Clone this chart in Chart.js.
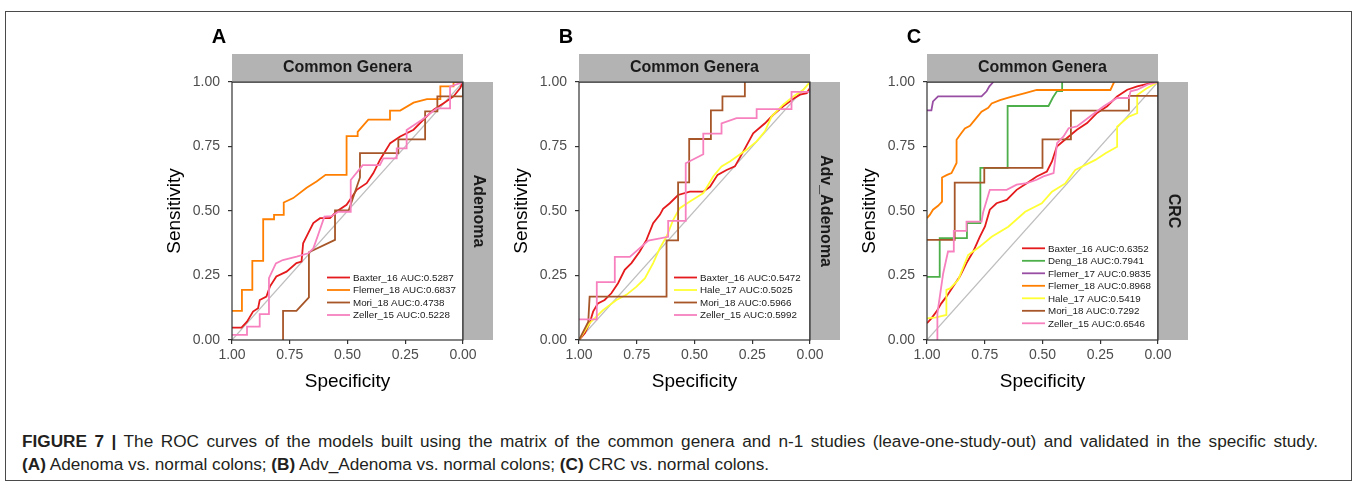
<!DOCTYPE html>
<html>
<head>
<meta charset="utf-8">
<script src="https://cdn.jsdelivr.net/npm/chart.js@4.4.1/dist/chart.umd.min.js"></script>
<style>
  body { margin: 0; width: 1354px; height: 483px; background: #fff; position: relative; overflow: hidden; font-family: "Liberation Sans", Arial, sans-serif; }
  .frame { position: absolute; left: 5px; top: 11px; width: 1347px; height: 470px; border: 1.5px solid #4a4a4a; box-sizing: border-box; }
  canvas { position: absolute; }
  .caption { position: absolute; left: 22px; font-size: 17.2px; line-height: 20px; color: #231f20; white-space: nowrap; }
  .caption.just { width: 1296px; white-space: normal; text-align: justify; text-align-last: justify; }
</style>
</head>
<body>
<div class="frame"></div>
<canvas id="chartA" width="360" height="380" style="left:150px;top:20px"></canvas>
<canvas id="chartB" width="360" height="380" style="left:497px;top:20px"></canvas>
<canvas id="chartC" width="360" height="380" style="left:845px;top:20px"></canvas>
<div class="caption just" style="top:431px"><b>FIGURE 7 |</b> The ROC curves of the models built using the matrix of the common genera and n-1 studies (leave-one-study-out) and validated in the specific study.</div>
<div class="caption" style="top:454px"><b>(A)</b> Adenoma vs. normal colons; <b>(B)</b> Adv_Adenoma vs. normal colons; <b>(C)</b> CRC vs. normal colons.</div>
<script>
// --- DATA (specificity / sensitivity) ---
const tickValues = [0, 0.25, 0.5, 0.75, 1];
const tickLabels = ['0.00', '0.25', '0.50', '0.75', '1.00'];

// panel A: Adenoma
const A_baxter_spec = [1, 0.959, 0.935, 0.909, 0.887, 0.88, 0.851, 0.836, 0.808, 0.764, 0.721, 0.699, 0.692, 0.67, 0.648, 0.619, 0.576, 0.547, 0.504, 0.46, 0.417, 0.388, 0.359, 0.315, 0.272, 0.214, 0.171, 0.127, 0.084, 0.041, 0.012, 0];
const A_baxter_sens = [0.048, 0.048, 0.071, 0.11, 0.123, 0.155, 0.168, 0.207, 0.246, 0.265, 0.298, 0.304, 0.375, 0.414, 0.453, 0.472, 0.472, 0.498, 0.524, 0.582, 0.608, 0.647, 0.699, 0.763, 0.789, 0.815, 0.854, 0.893, 0.918, 0.944, 0.977, 1];
const A_flemer18_spec = [1, 0.957, 0.957, 0.912, 0.912, 0.865, 0.865, 0.818, 0.818, 0.776, 0.776, 0.735, 0.677, 0.634, 0.595, 0.504, 0.504, 0.456, 0.456, 0.41, 0.316, 0.316, 0.272, 0.214, 0.156, 0.098, 0.098, 0.041, 0.041, 0];
const A_flemer18_sens = [0.113, 0.113, 0.194, 0.194, 0.307, 0.307, 0.468, 0.468, 0.485, 0.485, 0.533, 0.55, 0.59, 0.614, 0.64, 0.64, 0.79, 0.79, 0.807, 0.854, 0.854, 0.889, 0.889, 0.92, 0.934, 0.934, 0.983, 0.983, 1, 1];
const A_mori_spec = [0.779, 0.779, 0.721, 0.667, 0.667, 0.554, 0.554, 0.495, 0.446, 0.446, 0.28, 0.28, 0.164, 0.164, 0.111, 0.111, 0, 0];
const A_mori_sens = [0, 0.113, 0.113, 0.165, 0.34, 0.388, 0.502, 0.502, 0.63, 0.724, 0.724, 0.778, 0.778, 0.886, 0.886, 0.944, 0.944, 1];
const A_zeller_spec = [1, 0.935, 0.935, 0.88, 0.88, 0.84, 0.84, 0.81, 0.78, 0.72, 0.67, 0.648, 0.63, 0.6, 0.57, 0.54, 0.486, 0.486, 0.434, 0.36, 0.345, 0.287, 0.287, 0.244, 0.244, 0.179, 0.114, 0.056, 0.056, 0];
const A_zeller_sens = [0.02, 0.02, 0.052, 0.052, 0.1, 0.1, 0.24, 0.297, 0.31, 0.323, 0.336, 0.355, 0.4, 0.478, 0.48, 0.497, 0.497, 0.62, 0.678, 0.678, 0.704, 0.704, 0.743, 0.743, 0.814, 0.853, 0.898, 0.898, 0.982, 1];

// panel B: Adv_Adenoma
const B_baxter_spec = [1, 0.975, 0.954, 0.939, 0.918, 0.889, 0.86, 0.831, 0.802, 0.773, 0.737, 0.708, 0.679, 0.65, 0.636, 0.607, 0.571, 0.52, 0.462, 0.433, 0.4, 0.361, 0.325, 0.289, 0.246, 0.195, 0.159, 0.116, 0.072, 0.043, 0.014, 0, 0];
const B_baxter_sens = [0, 0.026, 0.065, 0.11, 0.142, 0.155, 0.181, 0.22, 0.272, 0.298, 0.343, 0.388, 0.453, 0.485, 0.508, 0.53, 0.562, 0.575, 0.575, 0.594, 0.64, 0.659, 0.673, 0.73, 0.801, 0.84, 0.873, 0.906, 0.935, 0.951, 0.957, 0.977, 1];
const B_hale_spec = [1, 0.954, 0.896, 0.838, 0.795, 0.751, 0.715, 0.679, 0.65, 0.621, 0.592, 0.564, 0.52, 0.462, 0.419, 0.383, 0.347, 0.275, 0.231, 0.195, 0.166, 0.116, 0.072, 0.029, 0];
const B_hale_sens = [0, 0.065, 0.116, 0.155, 0.175, 0.207, 0.239, 0.298, 0.356, 0.401, 0.466, 0.511, 0.537, 0.569, 0.634, 0.673, 0.692, 0.737, 0.77, 0.809, 0.867, 0.912, 0.944, 0.97, 1];
const B_mori_spec = [1, 0.96, 0.954, 0.621, 0.621, 0.571, 0.571, 0.523, 0.523, 0.429, 0.429, 0.379, 0.379, 0.282, 0.282];
const B_mori_sens = [0, 0.07, 0.168, 0.168, 0.386, 0.386, 0.611, 0.611, 0.779, 0.779, 0.89, 0.89, 0.944, 0.944, 1];
const B_zeller_spec = [1, 0.923, 0.923, 0.845, 0.845, 0.78, 0.7, 0.614, 0.614, 0.538, 0.538, 0.462, 0.462, 0.383, 0.383, 0.318, 0.231, 0.231, 0.08, 0.08, 0, 0];
const B_zeller_sens = [0.08, 0.08, 0.224, 0.224, 0.322, 0.322, 0.385, 0.4, 0.462, 0.462, 0.685, 0.72, 0.8, 0.8, 0.84, 0.86, 0.86, 0.895, 0.895, 0.962, 0.962, 1];

// panel C: CRC
const C_baxter_spec = [1, 0.981, 0.959, 0.938, 0.916, 0.887, 0.858, 0.829, 0.8, 0.771, 0.749, 0.728, 0.699, 0.655, 0.612, 0.568, 0.525, 0.481, 0.459, 0.438, 0.394, 0.351, 0.307, 0.264, 0.22, 0.177, 0.133, 0.09, 0.032, 0];
const C_baxter_sens = [0.065, 0.084, 0.11, 0.142, 0.168, 0.207, 0.246, 0.298, 0.343, 0.401, 0.44, 0.505, 0.53, 0.543, 0.582, 0.608, 0.634, 0.653, 0.692, 0.75, 0.783, 0.815, 0.841, 0.88, 0.906, 0.944, 0.97, 0.983, 0.996, 1];
const C_deng_spec = [1, 0.945, 0.945, 0.827, 0.827, 0.769, 0.769, 0.651, 0.651, 0.474, 0.455, 0.437, 0.415, 0.415];
const C_deng_sens = [0.245, 0.245, 0.395, 0.395, 0.453, 0.453, 0.667, 0.667, 0.907, 0.907, 0.94, 0.965, 0.965, 1];
const C_flemer17_spec = [1, 0.981, 0.974, 0.952, 0.764, 0.742, 0.73, 0.713];
const C_flemer17_sens = [0.89, 0.89, 0.925, 0.944, 0.944, 0.964, 0.983, 1];
const C_flemer18_spec = [1, 0.988, 0.974, 0.952, 0.935, 0.935, 0.913, 0.894, 0.872, 0.872, 0.851, 0.836, 0.814, 0.793, 0.764, 0.735, 0.72, 0.684, 0.633, 0.575, 0.525, 0.206, 0.19];
const C_flemer18_sens = [0.472, 0.485, 0.505, 0.52, 0.536, 0.63, 0.64, 0.647, 0.686, 0.776, 0.802, 0.82, 0.83, 0.853, 0.885, 0.9, 0.917, 0.93, 0.943, 0.957, 0.969, 0.969, 1];
const C_hale_spec = [1, 0.961, 0.916, 0.916, 0.9, 0.865, 0.822, 0.771, 0.72, 0.648, 0.575, 0.503, 0.459, 0.401, 0.358, 0.271, 0.227, 0.177, 0.177, 0.126, 0.09, 0.09, 0.05, 0];
const C_hale_sens = [0.084, 0.088, 0.097, 0.194, 0.2, 0.233, 0.329, 0.362, 0.4, 0.439, 0.497, 0.53, 0.575, 0.607, 0.659, 0.698, 0.724, 0.749, 0.827, 0.866, 0.879, 0.95, 0.975, 1];
const C_mori_spec = [1, 0.88, 0.88, 0.752, 0.752, 0.5, 0.5, 0.377, 0.377, 0.126, 0.126, 0];
const C_mori_sens = [0.388, 0.388, 0.61, 0.61, 0.667, 0.667, 0.778, 0.778, 0.889, 0.889, 0.946, 0.946];
const C_zeller_spec = [0.955, 0.955, 0.93, 0.909, 0.884, 0.884, 0.829, 0.829, 0.764, 0.757, 0.728, 0.655, 0.612, 0.568, 0.525, 0.496, 0.452, 0.437, 0.409, 0.387, 0.351, 0.293, 0.235, 0.177, 0.126, 0.119, 0.09, 0.046, 0];
const C_zeller_sens = [0, 0.103, 0.258, 0.343, 0.343, 0.423, 0.423, 0.459, 0.459, 0.495, 0.582, 0.582, 0.602, 0.608, 0.621, 0.634, 0.647, 0.763, 0.789, 0.821, 0.828, 0.867, 0.906, 0.938, 0.938, 0.964, 0.97, 0.99, 1];

const diagSpec = [1, 0];
const diagSens = [0, 1];

const colors = {
    baxter: '#E41A1C', deng: '#4DAF4A', flemer17: '#984EA3', flemer18: '#FF7F00',
    hale: '#FFFF33', mori: '#A65628', zeller: '#F781BF'
};
const FONT = '"Liberation Sans", Arial, Helvetica, sans-serif';

function toPoints(spec, sens) {
    return spec.map((s, i) => ({ x: s, y: sens[i] }));
}

function curve(label, color, spec, sens, idx) {
    return {
        label: label,
        data: toPoints(spec, sens),
        borderColor: color,
        backgroundColor: color,
        borderWidth: 1.8,
        pointRadius: 0,
        tension: 0,
        order: 50 - idx
    };
}

// strips, panel letter, border and legend drawn around the chart area
const facetPlugin = {
    id: 'facet',
    afterDatasetsDraw(chart, args, opts) {
        const { ctx, chartArea: a } = chart;
        ctx.save();
        ctx.strokeStyle = '#333333';
        ctx.lineWidth = 1.2;
        ctx.strokeRect(a.left, a.top, a.right - a.left, a.bottom - a.top);

        // legend inside the panel
        const items = chart.data.datasets.filter(d => d.label);
        ctx.font = `9.8px ${FONT}`;
        ctx.textBaseline = 'middle';
        ctx.textAlign = 'left';
        items.forEach((d, i) => {
            const y = a.top + opts.legendTop + i * 12.5;
            ctx.strokeStyle = d.borderColor;
            ctx.lineWidth = 1.8;
            ctx.beginPath();
            ctx.moveTo(a.left + 95, y);
            ctx.lineTo(a.left + 118, y);
            ctx.stroke();
            ctx.fillStyle = '#1a1a1a';
            ctx.fillText(d.label, a.left + 121, y + 0.5);
        });
        ctx.restore();
    },
    afterDraw(chart, args, opts) {
        const { ctx, chartArea: a } = chart;
        ctx.save();
        ctx.fillStyle = '#b3b3b3';
        ctx.fillRect(a.left, a.top - 28, a.right - a.left, 28);
        ctx.fillRect(a.right, a.top, 30, a.bottom - a.top);
        ctx.strokeStyle = '#333333';
        ctx.lineWidth = 1.2;
        ctx.beginPath();
        ctx.moveTo(a.left, a.top); ctx.lineTo(a.right, a.top);
        ctx.moveTo(a.right, a.top); ctx.lineTo(a.right, a.bottom);
        ctx.stroke();

        ctx.fillStyle = '#1a1a1a';
        ctx.font = `bold 16px ${FONT}`;
        ctx.textAlign = 'center';
        ctx.textBaseline = 'middle';
        ctx.fillText(opts.top, (a.left + a.right) / 2, a.top - 14);
        ctx.save();
        ctx.translate(a.right + 15, (a.top + a.bottom) / 2);
        ctx.rotate(Math.PI / 2);
        ctx.fillText(opts.side, 0, 0);
        ctx.restore();

        ctx.fillStyle = '#000';
        ctx.font = `bold 20px ${FONT}`;
        ctx.fillText(opts.letter, a.left - 13, a.top - 45);
        ctx.restore();
    }
};

function makeChart(id, datasets, letter, side, legendTop) {
    const all = [{
        label: '',
        data: toPoints(diagSpec, diagSens),
        borderColor: '#bebebe',
        borderWidth: 1.2,
        pointRadius: 0,
        order: 100
    }].concat(datasets);

    const tickFont = { family: FONT, size: 14 };
    const titleFont = { family: FONT, size: 19, lineHeight: 1 };
    const grid = { display: true, drawOnChartArea: false, drawTicks: true, tickLength: 4, color: '#333333', lineWidth: 1.2 };

    return new Chart(document.getElementById(id), {
        type: 'line',
        data: { datasets: all },
        options: {
            responsive: false,
            animation: false,
            devicePixelRatio: 1,
            layout: { padding: { top: 62, right: 47, left: 0, bottom: 0 } },
            scales: {
                x: {
                    type: 'linear', reverse: true, min: 0, max: 1,
                    afterBuildTicks: s => { s.ticks = tickValues.map(v => ({ value: v })); },
                    afterFit: s => { s.height = 60; },
                    ticks: { font: tickFont, color: '#4d4d4d', padding: 3, maxRotation: 0,
                        callback: v => tickLabels[tickValues.indexOf(v)] },
                    grid: grid,
                    border: { display: false },
                    title: { display: true, text: 'Specificity', font: titleFont, color: '#000', padding: { top: 0, bottom: 9 } }
                },
                y: {
                    type: 'linear', min: 0, max: 1,
                    afterBuildTicks: s => { s.ticks = tickValues.map(v => ({ value: v })); },
                    afterFit: s => { s.width = 82; },
                    ticks: { font: tickFont, color: '#4d4d4d', padding: 8,
                        callback: v => tickLabels[tickValues.indexOf(v)] },
                    grid: grid,
                    border: { display: false },
                    title: { display: true, text: 'Sensitivity', font: titleFont, color: '#000', padding: { top: 15, bottom: 0 } }
                }
            },
            plugins: {
                legend: { display: false },
                tooltip: { enabled: false },
                facet: { top: 'Common Genera', side: side, letter: letter, legendTop: legendTop }
            }
        },
        plugins: [facetPlugin]
    });
}

makeChart('chartA', [
    curve('Baxter_16 AUC:0.5287', colors.baxter, A_baxter_spec, A_baxter_sens, 0),
    curve('Flemer_18 AUC:0.6837', colors.flemer18, A_flemer18_spec, A_flemer18_sens, 1),
    curve('Mori_18 AUC:0.4738', colors.mori, A_mori_spec, A_mori_sens, 2),
    curve('Zeller_15 AUC:0.5228', colors.zeller, A_zeller_spec, A_zeller_sens, 3)
], 'A', 'Adenoma', 195.5);

makeChart('chartB', [
    curve('Baxter_16 AUC:0.5472', colors.baxter, B_baxter_spec, B_baxter_sens, 0),
    curve('Hale_17 AUC:0.5025', colors.hale, B_hale_spec, B_hale_sens, 1),
    curve('Mori_18 AUC:0.5966', colors.mori, B_mori_spec, B_mori_sens, 2),
    curve('Zeller_15 AUC:0.5992', colors.zeller, B_zeller_spec, B_zeller_sens, 3)
], 'B', 'Adv_Adenoma', 195.5);

makeChart('chartC', [
    curve('Baxter_16 AUC:0.6352', colors.baxter, C_baxter_spec, C_baxter_sens, 0),
    curve('Deng_18 AUC:0.7941', colors.deng, C_deng_spec, C_deng_sens, 1),
    curve('Flemer_17 AUC:0.9835', colors.flemer17, C_flemer17_spec, C_flemer17_sens, 2),
    curve('Flemer_18 AUC:0.8968', colors.flemer18, C_flemer18_spec, C_flemer18_sens, 3),
    curve('Hale_17 AUC:0.5419', colors.hale, C_hale_spec, C_hale_sens, 4),
    curve('Mori_18 AUC:0.7292', colors.mori, C_mori_spec, C_mori_sens, 5),
    curve('Zeller_15 AUC:0.6546', colors.zeller, C_zeller_spec, C_zeller_sens, 6)
], 'C', 'CRC', 166.3);
</script>
</body>
</html>
